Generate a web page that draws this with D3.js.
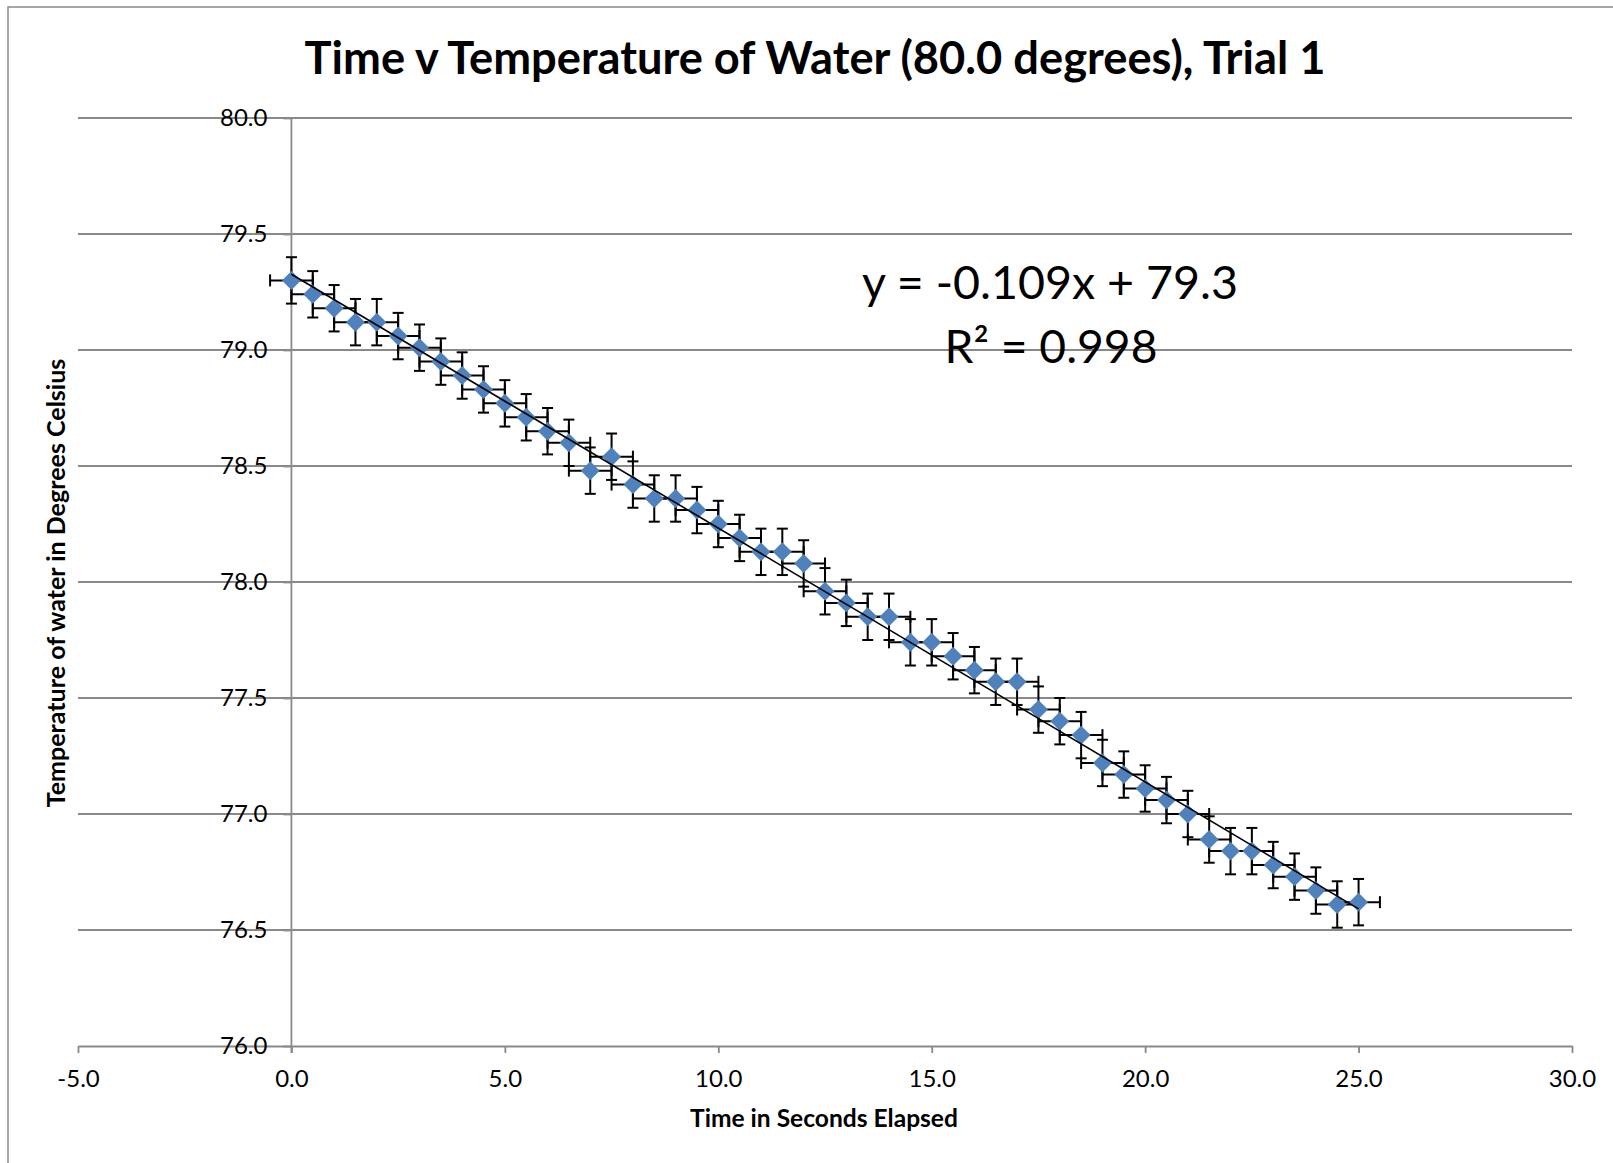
<!DOCTYPE html>
<html>
<head>
<meta charset="utf-8">
<script src="https://cdn.jsdelivr.net/npm/d3@7"></script>
<style>
  html, body { margin: 0; padding: 0; background: #fff; }
  svg { display: block; }
  text { font-family: Lato, "Open Sans", sans-serif; }
</style>
</head>
<body>
<svg id="chart" width="1613" height="1163"></svg>
<script>
// ---- data ----
const times = [0, 0.5, 1, 1.5, 2, 2.5, 3, 3.5, 4, 4.5, 5, 5.5, 6, 6.5, 7, 7.5, 8, 8.5, 9, 9.5,
  10, 10.5, 11, 11.5, 12, 12.5, 13, 13.5, 14, 14.5, 15, 15.5, 16, 16.5, 17, 17.5, 18, 18.5, 19, 19.5,
  20, 20.5, 21, 21.5, 22, 22.5, 23, 23.5, 24, 24.5, 25];
const temps = [79.30, 79.24, 79.18, 79.12, 79.12, 79.06, 79.01, 78.95, 78.89, 78.83,
  78.77, 78.71, 78.65, 78.60, 78.48, 78.54, 78.42, 78.36, 78.36, 78.31,
  78.25, 78.19, 78.13, 78.13, 78.08, 77.96, 77.91, 77.85, 77.85, 77.74,
  77.74, 77.68, 77.62, 77.57, 77.57, 77.45, 77.40, 77.34, 77.22, 77.17,
  77.11, 77.06, 77.00, 76.89, 76.84, 76.84, 76.78, 76.73, 76.67, 76.61, 76.62];
const xError = 0.5;
const yError = 0.1;
const xTicks = [-5, 0, 5, 10, 15, 20, 25, 30];
const yTicks = [76.0, 76.5, 77.0, 77.5, 78.0, 78.5, 79.0, 79.5, 80.0];
const titleText = "Time v Temperature of Water (80.0 degrees), Trial 1";
const xTitle = "Time in Seconds Elapsed";
const yTitle = "Temperature of water in Degrees Celsius";
const eqLine1 = "y = -0.109x + 79.3";
const eqLine2 = "R\u00B2 = 0.998";

// ---- layout ----
const svg = d3.select("#chart");
const x = d3.scaleLinear().domain([-5, 30]).range([78, 1572]);
const y = d3.scaleLinear().domain([76, 80]).range([1046, 118]);
const gridColor = "#898989";
const markerColor = "#4F81BD";
const fmt = v => d3.format(".1f")(v).replace("\u2212", "-");

function fitText(sel, target) {
  sel.attr("font-size", 100);
  const len = sel.node().getComputedTextLength();
  sel.attr("font-size", 100 * target / len);
}

// chart border (only left/top visible)
svg.append("rect").attr("x", 8).attr("y", 7).attr("width", 1800).attr("height", 1400)
  .attr("fill", "none").attr("stroke", gridColor).attr("stroke-width", 1.5);

// horizontal gridlines
svg.append("g").selectAll("line").data(yTicks.filter(v => v > 76)).join("line")
  .attr("x1", x(-5)).attr("x2", x(30))
  .attr("y1", d => y(d)).attr("y2", d => y(d))
  .attr("stroke", gridColor).attr("stroke-width", 1.8);

// x axis
const xAxis = svg.append("g").attr("transform", `translate(0,${y(76)})`)
  .call(d3.axisBottom(x).tickValues(xTicks).tickFormat(fmt)
    .tickSizeInner(7).tickSizeOuter(0).tickPadding(17));
xAxis.select(".domain").attr("stroke", gridColor).attr("stroke-width", 1.8);
xAxis.selectAll(".tick line").attr("stroke", gridColor).attr("stroke-width", 1.8);
xAxis.selectAll(".tick text").attr("font-size", 24).attr("fill", "#000")
  .attr("font-family", "Lato").attr("dy", "0.71em");

// y axis
const yAxis = svg.append("g").attr("transform", `translate(${x(0)},0)`)
  .call(d3.axisLeft(y).tickValues(yTicks).tickFormat(fmt)
    .tickSizeInner(8).tickSizeOuter(0).tickPadding(16));
yAxis.select(".domain").remove();
yAxis.selectAll(".tick line").attr("stroke", gridColor).attr("stroke-width", 1.8);
yAxis.selectAll(".tick text").attr("font-size", 24).attr("fill", "#000")
  .attr("font-family", "Lato");
svg.append("line").attr("x1", x(0)).attr("x2", x(0))
  .attr("y1", y(80)).attr("y2", y(76) + 7)
  .attr("stroke", gridColor).attr("stroke-width", 1.8);

// data
const pts = times.map((t, i) => ({ t, v: temps[i] }));

// error bars
const eb = svg.append("g").attr("stroke", "#000").attr("stroke-width", 2).attr("fill", "none");
const capV = 5.5, capH = 6;
pts.forEach(p => {
  const cx = x(p.t), cy = y(p.v);
  const y1 = y(p.v + yError), y2 = y(p.v - yError);
  const x1 = x(p.t - xError), x2 = x(p.t + xError);
  eb.append("line").attr("x1", cx).attr("x2", cx).attr("y1", y1).attr("y2", y2);
  eb.append("line").attr("x1", cx - capV).attr("x2", cx + capV).attr("y1", y1).attr("y2", y1);
  eb.append("line").attr("x1", cx - capV).attr("x2", cx + capV).attr("y1", y2).attr("y2", y2);
  eb.append("line").attr("x1", x1).attr("x2", x2).attr("y1", cy).attr("y2", cy);
  eb.append("line").attr("x1", x1).attr("x2", x1).attr("y1", cy - capH).attr("y2", cy + capH);
  eb.append("line").attr("x1", x2).attr("x2", x2).attr("y1", cy - capH).attr("y2", cy + capH);
});

// markers (diamonds)
const diamond = d3.symbol().type(d3.symbolSquare).size(180);
svg.append("g").selectAll("path").data(pts).join("path")
  .attr("d", diamond)
  .attr("transform", d => `translate(${x(d.t)},${y(d.v)}) rotate(45)`)
  .attr("fill", markerColor);

// linear trendline (least squares from the data)
const mx = d3.mean(times), my = d3.mean(temps);
const slope = d3.sum(pts, p => (p.t - mx) * (p.v - my)) / d3.sum(pts, p => (p.t - mx) ** 2);
const intercept = my - slope * mx;
const tExt = d3.extent(times);
svg.append("line")
  .attr("x1", x(tExt[0])).attr("y1", y(intercept + slope * tExt[0]))
  .attr("x2", x(tExt[1])).attr("y2", y(intercept + slope * tExt[1]))
  .attr("stroke", "#000").attr("stroke-width", 1.6);

// equation
const e1 = svg.append("text").attr("x", 1050).attr("y", 299).attr("text-anchor", "middle")
  .attr("fill", "#000").text(eqLine1);
fitText(e1, 376);
const e2 = svg.append("text").attr("x", 1051).attr("y", 363).attr("text-anchor", "middle")
  .attr("fill", "#000").text(eqLine2);
fitText(e2, 213);

// title
const tt = svg.append("text").attr("x", 815).attr("y", 74).attr("text-anchor", "middle")
  .attr("font-weight", "bold").attr("fill", "#000").text(titleText);
fitText(tt, 1021);

// axis titles
const xt = svg.append("text").attr("x", 824).attr("y", 1127).attr("text-anchor", "middle")
  .attr("font-weight", "bold").attr("fill", "#000").text(xTitle);
fitText(xt, 268);
const yt = svg.append("text").attr("transform", "translate(65,583) rotate(-90)")
  .attr("text-anchor", "middle").attr("font-weight", "bold").attr("fill", "#000").text(yTitle);
fitText(yt, 449);
</script>
</body>
</html>
